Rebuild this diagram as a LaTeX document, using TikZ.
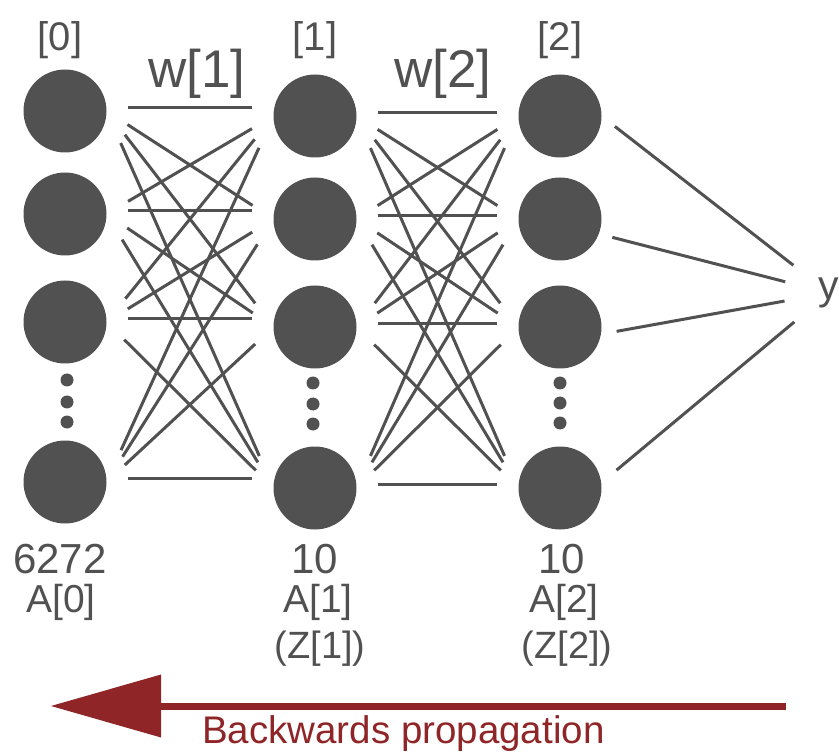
\documentclass[tikz,border=0pt]{standalone}
\usepackage{fontspec}
\setmainfont{Liberation Sans}
\usetikzlibrary{arrows.meta}
\definecolor{ink}{RGB}{81,81,81}
\definecolor{bpred}{RGB}{143,37,39}
\begin{document}
\begin{tikzpicture}[x=1pt,y=-1pt,
  neuron/.style={circle, fill=ink, minimum size=83pt, inner sep=0pt, outer sep=0pt},
  wire/.style={draw=ink, line width=3pt},
  lbl/.style={text=ink, inner sep=0pt, font=\fontsize{#1pt}{#1pt}\selectfont},
  dotmark/.style={fill=ink}]
\useasboundingbox (0,0) rectangle (839,754);

% neurons
\foreach \k/\y in {1/111,2/214,3/322,4/482} \node[neuron] (a\k) at (65,\y) {};
\foreach \k/\y in {1/116,2/219,3/327,4/488} \node[neuron] (b\k) at (315,\y) {};
\foreach \k/\y in {1/116,2/219,3/327,4/488} \node[neuron] (c\k) at (560,\y) {};

% ellipsis dots
\foreach \y in {380,402,422} \fill[dotmark] (67,\y) circle (6.5pt);
\foreach \y in {383,404,424} \fill[dotmark] (313,\y) circle (6.5pt);
\foreach \y in {383,403,423} \fill[dotmark] (560,\y) circle (6.5pt);

% layer labels
\node[lbl=40] (l0) at (60,40) {[0]};
\node[lbl=40] (l1) at (315,40) {[1]};
\node[lbl=40] (l2) at (560,40) {[2]};
\node[lbl=53] (w1) at (197,74) {w[1]};
\node[lbl=53] (w2) at (443,74) {w[2]};

\node[lbl=42] (n0) at (60,559) {6272};
\node[lbl=42] (n1) at (315,559) {10};
\node[lbl=42] (n2) at (562,559) {10};
\node[lbl=39] (A0) at (61,602) {A[0]};
\node[lbl=39] (A1) at (318,602) {A[1]};
\node[lbl=39] (A2) at (564,602) {A[2]};
\node[lbl=38] (Z1) at (320,649) {(Z[1])};
\node[lbl=38] (Z2) at (567,649) {(Z[2])};

% weight connections
\foreach \p/\q in {a/b,b/c}{
  \foreach \i in {1,...,4}{
    \foreach \j in {1,...,4}{
      \ifnum\i=\j
        \draw[wire, shorten <=22pt, shorten >=22pt] (\p\i.5) -- (\p\i.5 -| \q\i.west);
      \else
        \pgfmathsetmacro{\s}{20+5*abs(\i-\j)}
        \draw[wire, shorten <=\s pt, shorten >=\s pt] (\p\i.east) -- (\q\j.west);
      \fi
    }
  }
}

% output
\node[circle, minimum size=90pt, inner sep=0pt, text=ink, font=\fontsize{41pt}{41pt}\selectfont] (y) at (829,293) {y};
\draw[wire, shorten <=17pt] (c1.east) -- (y);
\draw[wire, shorten <=14pt] (c2.-21) -- (y);
\draw[wire, shorten <=16pt] (c3.-10) -- (y);
\draw[wire, shorten <=20pt] (c4.7) -- (y);

% backwards propagation arrow
\coordinate (bpfrom) at (786,706);
\coordinate (bpto) at (51,706);
\draw[bpred, line width=7pt, -{Triangle[length=110pt, width=63pt, line width=0pt]}] (bpfrom) -- (bpto);
\node[anchor=base west, text=bpred, inner sep=0pt, font=\fontsize{38.5pt}{38.5pt}\selectfont] (bptext) at (202,743) {Backwards propagation};
\end{tikzpicture}
\end{document}
